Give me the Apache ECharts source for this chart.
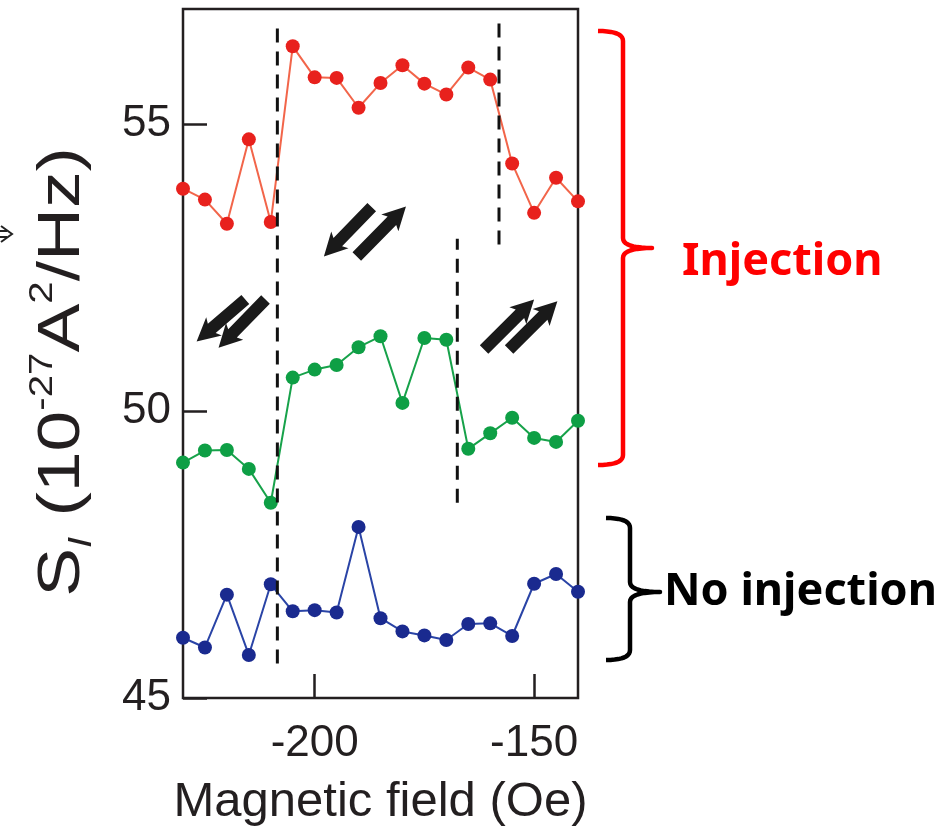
<!DOCTYPE html>
<html>
<head>
<meta charset="utf-8">
<script src="https://cdn.jsdelivr.net/npm/echarts@6/dist/echarts.min.js"></script>
<style>
  html, body { margin: 0; padding: 0; background: #fff; }
  #chart { width: 949px; height: 827px; }
</style>
</head>
<body>
<div id="chart"></div>
<script>
// magnetic field (Oe)
const fields = [-230, -225, -220, -215, -210, -205, -200, -195, -190, -185,
  -180, -175, -170, -165, -160, -155, -150, -145, -140];
const injectionHigh = [53.87, 53.68, 53.26, 54.73, 53.29, 56.35, 55.81, 55.80, 55.28, 55.71,
  56.02, 55.70, 55.51, 55.98, 55.77, 54.31, 53.45, 54.06, 53.65];
const injectionLow = [49.10, 49.31, 49.32, 48.99, 48.40, 50.58, 50.72, 50.80, 51.11, 51.30,
  50.14, 51.27, 51.24, 49.34, 49.61, 49.88, 49.53, 49.46, 49.83];
const noInjection = [46.05, 45.88, 46.80, 45.75, 46.98, 46.51, 46.53, 46.49, 47.98, 46.39,
  46.16, 46.09, 46.01, 46.29, 46.30, 46.08, 46.99, 47.16, 46.85];
const xTicks = [-200, -150];
const yTicks = [45, 50, 55];

// dashed switching-field markers: [field, from, to]
const switchLines = [
  [-208.5, 45.6, 56.8],
  [-158, 52.9, 56.8],
  [-167.5, 48.4, 53.0]
];

// magnetisation arrows: [tail field, tail S, tip field, tip S]
const arrows = [
  [-215.8, 51.94, -226.9, 51.21],
  [-211.2, 51.94, -221.9, 51.10],
  [-187.0, 53.55, -197.9, 52.69],
  [-190.4, 52.69, -179.2, 53.56],
  [-161.4, 51.07, -150.0, 51.94],
  [-155.7, 51.07, -144.7, 51.91]
];

const axisColor = "#231f20";
const axisFont = "'Liberation Sans', Arial, sans-serif";

const chart = echarts.init(document.getElementById("chart"));

function dataSeries(values, lineColor, dotColor) {
  return {
    type: "line",
    data: fields.map((f, i) => [f, values[i]]),
    symbol: "circle",
    symbolSize: 14,
    clip: false,
    lineStyle: { color: lineColor, width: 2 },
    itemStyle: { color: dotColor },
    z: 3
  };
}

const option = {
  animation: false,
  backgroundColor: "#fff",
  grid: {
    left: 183, top: 9, right: 371, bottom: 129,
    outerBoundsMode: "none",
    show: true, borderColor: axisColor, borderWidth: 2.5,
    containLabel: false
  },
  xAxis: {
    type: "value",
    min: -230,
    max: -140,
    axisLine: { show: false },
    axisTick: {
      inside: true, length: 24, customValues: xTicks,
      lineStyle: { color: axisColor, width: 2.5 }
    },
    axisLabel: {
      customValues: xTicks, margin: 24,
      color: axisColor, fontSize: 44, fontFamily: axisFont
    },
    splitLine: { show: false },
    name: "Magnetic field (Oe)",
    nameLocation: "middle",
    nameGap: 80,
    nameTextStyle: { color: axisColor, fontSize: 49, fontFamily: axisFont }
  },
  yAxis: {
    type: "value",
    min: 45,
    max: 57,
    axisLine: { show: false },
    axisTick: {
      inside: true, length: 24, customValues: yTicks,
      lineStyle: { color: axisColor, width: 2.5 }
    },
    axisLabel: {
      customValues: yTicks, margin: 12,
      color: axisColor, fontSize: 44, fontFamily: axisFont
    },
    splitLine: { show: false }
  },
  series: [
    dataSeries(injectionHigh, "#f2654a", "#e8211d"),
    dataSeries(injectionLow, "#17a24a", "#0e9f45"),
    dataSeries(noInjection, "#2a44a6", "#1a2a8f")
  ].concat(switchLines.map(([f, a, b]) => ({
    type: "line",
    data: [[f, a], [f, b]],
    symbol: "none",
    lineStyle: { color: "#111", width: 3, type: [14, 9] },
    z: 4
  })))
};

chart.setOption(option);

// block arrows for the layer magnetisations
function blockArrow(tail, tip) {
  const dx = tip[0] - tail[0], dy = tip[1] - tail[1];
  const len = Math.hypot(dx, dy);
  const ux = dx / len, uy = dy / len;
  const nx = -uy, ny = ux;
  const w = 6, h = 12, L = 20;
  const bx = tip[0] - ux * L, by = tip[1] - uy * L;
  return {
    type: "polygon",
    shape: {
      points: [
        [tail[0] + nx * w, tail[1] + ny * w],
        [bx + nx * w, by + ny * w],
        [bx + nx * h - ux * 3, by + ny * h - uy * 3],
        tip,
        [bx - nx * h - ux * 3, by - ny * h - uy * 3],
        [bx - nx * w, by - ny * w],
        [tail[0] - nx * w, tail[1] - ny * w]
      ]
    },
    style: { fill: "#1a1a1a" },
    z: 10
  };
}

const arrowShapes = arrows.map(([x0, y0, x1, y1]) =>
  blockArrow(chart.convertToPixel({ gridIndex: 0 }, [x0, y0]),
             chart.convertToPixel({ gridIndex: 0 }, [x1, y1])));

// curly bracket as a sampled polyline
function quad(p0, c, p1, out) {
  for (let t = 0; t <= 1.0001; t += 0.1) {
    const a = (1 - t) * (1 - t), b = 2 * (1 - t) * t, d = t * t;
    out.push([a * p0[0] + b * c[0] + d * p1[0], a * p0[1] + b * c[1] + d * p1[1]]);
  }
}
function bracket(x0, xs, xt, y0, ym, y1) {
  const pts = [];
  quad([x0, y0], [xs, y0], [xs, y0 + 10], pts);
  quad([xs, ym - 10], [xs, ym], [xt, ym], pts);
  quad([xt, ym], [xs, ym], [xs, ym + 10], pts);
  quad([xs, y1 - 10], [xs, y1], [x0, y1], pts);
  return pts;
}

chart.setOption({
  graphic: arrowShapes.concat([
    {
      type: "polyline",
      shape: { points: bracket(598, 623, 652, 31, 248, 465) },
      style: { fill: null, stroke: "#ff0000", lineWidth: 4.5, lineJoin: "round" },
      z: 10
    },
    {
      type: "polyline",
      shape: { points: bracket(606, 630, 660, 518, 592, 660) },
      style: { fill: null, stroke: "#000", lineWidth: 4.5, lineJoin: "round" },
      z: 10
    },
    {
      type: "text",
      left: 682, top: 240,
      style: {
        text: "Injection", fill: "#ff0000",
        font: "bold 45px 'Noto Sans', sans-serif"
      },
      z: 10
    },
    {
      type: "text",
      left: 664, top: 570,
      style: {
        text: "No injection", fill: "#000",
        font: "bold 45px 'Noto Sans', sans-serif"
      },
      z: 10
    },
    {
      type: "text",
      x: 62, y: 372,
      rotation: Math.PI / 2,
      scaleX: 1.22,
      style: {
        text: "{n|S}{sub|I}{n| (10}{sup|-27}{n|A}{sup|2}{n|/Hz)}",
        align: "center",
        verticalAlign: "middle",
        fill: axisColor,
        rich: {
          n: { fontSize: 60, fontFamily: axisFont, lineHeight: 72, verticalAlign: "middle", fill: axisColor },
          sub: { fontSize: 33, fontFamily: axisFont, fontStyle: "italic", lineHeight: 72, verticalAlign: "bottom", fill: axisColor },
          sup: { fontSize: 33, fontFamily: axisFont, lineHeight: 72, verticalAlign: "top", fill: axisColor }
        }
      },
      z: 10
    },
    {
      type: "polyline",
      shape: { points: [[1, 226], [12, 234], [1, 242]] },
      style: { fill: null, stroke: "#222", lineWidth: 2 },
      z: 10
    },
    {
      type: "polyline",
      shape: { points: [[0, 231], [7, 231]] },
      style: { fill: null, stroke: "#222", lineWidth: 2 },
      z: 10
    },
    {
      type: "polyline",
      shape: { points: [[0, 237], [7, 237]] },
      style: { fill: null, stroke: "#222", lineWidth: 2 },
      z: 10
    }
  ])
});
</script>
</body>
</html>
